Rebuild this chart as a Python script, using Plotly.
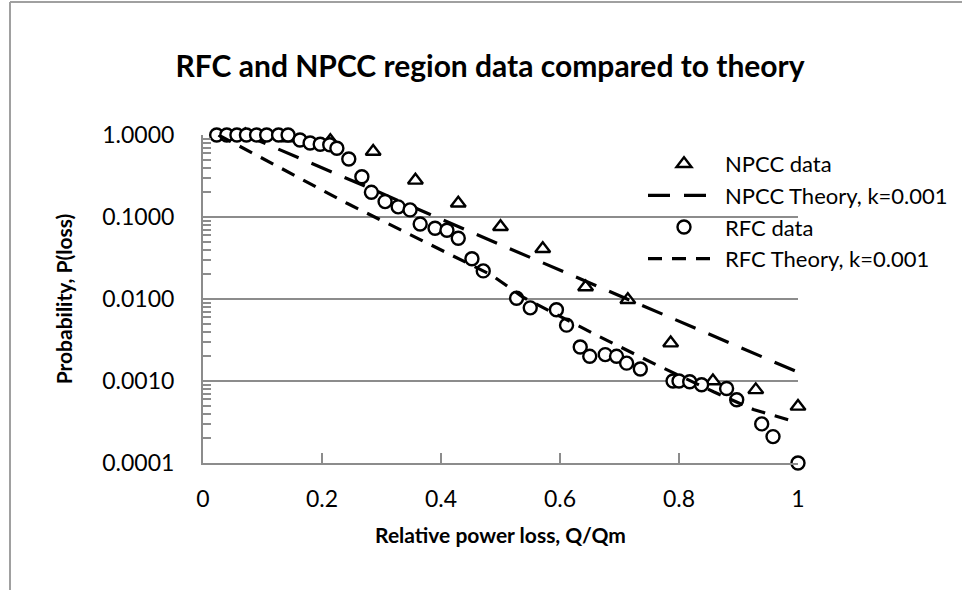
import plotly.graph_objects as go

# ---- data ----
rfc_x = [0.023, 0.04, 0.057, 0.073, 0.09, 0.107, 0.127, 0.143, 0.163, 0.18, 0.197, 0.213,
         0.225, 0.245, 0.267, 0.283, 0.306, 0.328, 0.348, 0.365, 0.39, 0.41, 0.429, 0.452,
         0.471, 0.527, 0.55, 0.594, 0.611, 0.634, 0.65, 0.676, 0.695, 0.712, 0.735, 0.79,
         0.80, 0.818, 0.838, 0.88, 0.897, 0.939, 0.958, 1.0]
rfc_y = [1.0, 1.0, 1.0, 1.0, 1.0, 1.0, 1.0, 1.0, 0.87, 0.8, 0.77, 0.76,
         0.69, 0.51, 0.31, 0.2, 0.154, 0.133, 0.122, 0.082, 0.073, 0.069, 0.055, 0.031,
         0.022, 0.0102, 0.0078, 0.0074, 0.0048, 0.0026, 0.0020, 0.0021, 0.0020, 0.00165, 0.0014, 0.001,
         0.001, 0.00098, 0.0009, 0.00081, 0.00059, 0.0003, 0.00021, 0.0001]

npcc_x = [0.071, 0.143, 0.214, 0.286, 0.357, 0.429, 0.5, 0.571, 0.643, 0.714, 0.786,
          0.857, 0.929, 1.0]
npcc_y = [1.0, 0.92, 0.85, 0.63, 0.28, 0.147, 0.076, 0.041, 0.014, 0.0098, 0.0029,
          0.001, 0.00078, 0.00049]

npcc_theory_x = [0.071, 0.2, 0.3, 0.4, 0.5, 0.6, 0.7, 0.8, 0.9, 1.0]
npcc_theory_y = [1.0, 0.4, 0.195, 0.094, 0.046, 0.0225, 0.011, 0.0054, 0.0026, 0.00128]

rfc_theory_x = [0.026, 0.073, 0.169, 0.242, 0.485, 0.538, 0.662, 0.757, 0.858, 0.925, 0.987]
rfc_theory_y = [1.0, 0.656, 0.283, 0.147, 0.0196, 0.0105, 0.0036, 0.00164, 0.00074, 0.00045, 0.00033]

x_tickvals = [0, 0.2, 0.4, 0.6, 0.8, 1.0]
x_ticktext = ["0", "0.2", "0.4", "0.6", "0.8", "1"]
y_tickvals = [1.0, 0.1, 0.01, 0.001, 0.0001]
y_ticktext = ["1.0000", "0.1000", "0.0100", "0.0010", "0.0001"]
y_minor_tickvals = [m * 10.0 ** e for e in (-4, -3, -2, -1) for m in range(2, 10)]

title_text = "RFC and NPCC region data compared to theory"
x_title = "Relative power loss, Q/Qm"
y_title = "Probability, P(loss)"

FONT = "Lato, 'Open Sans', sans-serif"
GRAY = "#8c8c8c"

fig = go.Figure()
fig.add_trace(go.Scatter(
    x=npcc_x, y=npcc_y, mode="markers", name="NPCC data",
    marker=dict(symbol="triangle-up", size=13, color="white",
                line=dict(color="black", width=2.4)),
    cliponaxis=False))
fig.add_trace(go.Scatter(
    x=npcc_theory_x, y=npcc_theory_y, mode="lines", name="NPCC Theory, k=0.001",
    line=dict(color="black", width=3.2, dash="22px,14px")))
fig.add_trace(go.Scatter(
    x=rfc_x, y=rfc_y, mode="markers", name="RFC data",
    marker=dict(symbol="circle", size=13, color="white",
                line=dict(color="black", width=2.4)),
    cliponaxis=False))
fig.add_trace(go.Scatter(
    x=rfc_theory_x, y=rfc_theory_y, mode="lines", name="RFC Theory, k=0.001",
    line=dict(color="black", width=3.2, dash="14px,10px")))

# paper coords helpers (plot area: x 203..798 px, y 135..463 px)
def px_x(p):
    return (p - 203) / 595.0

def px_y(p):
    return (463 - p) / 328.0

fig.update_layout(
    width=972, height=590,
    margin=dict(l=203, r=174, t=135, b=127, autoexpand=False),
    paper_bgcolor="white", plot_bgcolor="white",
    font=dict(family=FONT, size=23, color="black"),
    title=dict(text="<b>" + title_text + "</b>", x=px_x(503), xanchor="center",
               y=1 - 66 / 590, yanchor="middle", font=dict(size=30, family=FONT)),
    showlegend=True,
    legend=dict(x=px_x(643), xanchor="left", y=px_y(143), yanchor="top",
                bgcolor="rgba(0,0,0,0)", itemwidth=72, font=dict(size=22),
                tracegroupgap=0),
    shapes=[
        dict(type="line", xref="paper", yref="paper",
             x0=px_x(10), x1=px_x(10), y0=px_y(2), y1=px_y(600),
             line=dict(color="#a0a0a0", width=2)),
        dict(type="line", xref="paper", yref="paper",
             x0=px_x(10), x1=px_x(962), y0=px_y(2), y1=px_y(2),
             line=dict(color="#a0a0a0", width=2)),
    ],
)

fig.update_xaxes(
    range=[0, 1], tickvals=x_tickvals, ticktext=x_ticktext,
    showgrid=False, zeroline=False, showline=True, linecolor=GRAY, linewidth=2,
    ticks="inside", ticklen=10, tickwidth=2, tickcolor=GRAY,
    ticklabelstandoff=14, tickfont=dict(size=23),
    title=dict(text="<b>" + x_title + "</b>", font=dict(size=21), standoff=18),
)
fig.update_yaxes(
    type="log", range=[-4, 0], tickvals=y_tickvals, ticktext=y_ticktext,
    showgrid=True, gridcolor=GRAY, gridwidth=2, zeroline=False,
    showline=True, linecolor=GRAY, linewidth=2,
    ticks="", ticklabelstandoff=22, tickfont=dict(size=23),
    minor=dict(ticks="inside", ticklen=8, tickwidth=2, tickcolor=GRAY,
               showgrid=False, tickvals=y_minor_tickvals),
    title=dict(text="<b>" + y_title + "</b>", font=dict(size=21), standoff=24),
)

fig.write_html("out.html", config={"displayModeBar": False},
               post_script="document.body.style.margin='0px';")
